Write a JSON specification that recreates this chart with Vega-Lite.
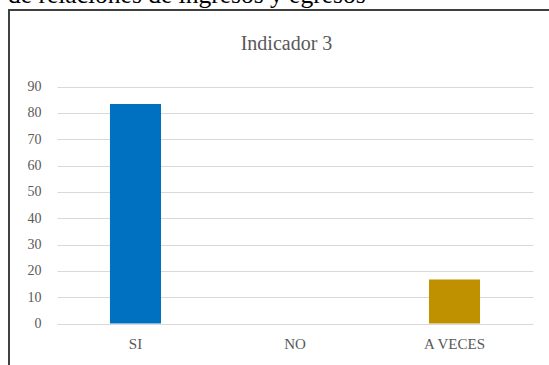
{
  "$schema": "https://vega.github.io/schema/vega-lite/v6.json",
  "autosize": "none",
  "width": 540,
  "height": 355,
  "padding": {"left": 9, "top": 10, "right": 0, "bottom": 0},
  "background": "white",
  "title": {
    "text": "de relaciones de ingresos y egresos",
    "anchor": "start",
    "frame": "group",
    "orient": "top",
    "offset": -18,
    "dx": -1,
    "baseline": "alphabetic",
    "font": "Liberation Serif",
    "fontSize": 25.5,
    "fontWeight": "normal",
    "color": "#000000"
  },
  "data": {
    "values": [
      {"respuesta": "SI", "porcentaje": 83.33},
      {"respuesta": "NO", "porcentaje": 0},
      {"respuesta": "A VECES", "porcentaje": 16.67}
    ]
  },
  "mark": {"type": "bar"},
  "encoding": {
    "x": {
      "field": "respuesta",
      "type": "nominal",
      "sort": null,
      "scale": {"range": [48, 524], "paddingInner": 0.68, "paddingOuter": 0.332},
      "axis": {
        "orient": "bottom",
        "offset": -41.5,
        "domain": false,
        "ticks": false,
        "tickSize": 0,
        "grid": false,
        "labelAngle": 0,
        "labelPadding": 12.5,
        "labelFont": "Liberation Serif",
        "labelFontSize": 15,
        "labelColor": "#595959",
        "title": "Indicador 3",
        "titleX": 277,
        "titleY": -274.5,
        "titleAlign": "center",
        "titleBaseline": "alphabetic",
        "titleFont": "Liberation Serif",
        "titleFontSize": 20,
        "titleFontWeight": "normal",
        "titleColor": "#595959"
      }
    },
    "y": {
      "field": "porcentaje",
      "type": "quantitative",
      "scale": {"domain": [0, 90], "range": [313.5, 76.5], "nice": false, "zero": true},
      "axis": {
        "orient": "left",
        "offset": -48,
        "values": [0, 10, 20, 30, 40, 50, 60, 70, 80, 90],
        "domain": false,
        "ticks": false,
        "tickSize": 0,
        "grid": true,
        "gridColor": "#D9D9D9",
        "gridWidth": 1,
        "labelPadding": 16,
        "labelFont": "Liberation Serif",
        "labelFontSize": 14,
        "labelColor": "#595959",
        "title": null
      }
    },
    "color": {
      "field": "respuesta",
      "type": "nominal",
      "scale": {"domain": ["SI", "NO", "A VECES"], "range": ["#0070C0", "#7F7F7F", "#BF9000"]},
      "legend": null
    }
  },
  "config": {
    "view": {"stroke": "#404040", "strokeWidth": 2, "strokeDash": [540, 895, 355, 10]}
  }
}
